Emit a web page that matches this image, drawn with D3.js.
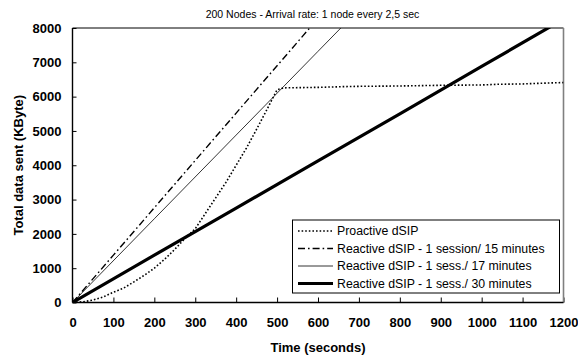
<!DOCTYPE html>
<html>
<head>
<meta charset="utf-8">
<script src="https://cdn.jsdelivr.net/npm/d3@7"></script>
<style>
  body { margin: 0; background: #fff; }
  text { font-family: "Liberation Sans", Arial, sans-serif; }
</style>
</head>
<body>
<div id="viz"></div>
<script>
// values
var proTime = [0, 25, 50, 75, 100, 125, 150, 175, 200, 225, 250, 275, 300, 325, 350, 375, 400, 425, 450, 475, 500, 515, 600, 660, 700, 800, 900, 1000, 1040, 1100, 1170, 1200];
var proData = [0, 20, 70, 160, 300, 420, 600, 790, 1000, 1260, 1550, 1870, 2150, 2600, 3050, 3500, 4000, 4500, 5050, 5620, 6200, 6255, 6270, 6290, 6300, 6310, 6330, 6340, 6360, 6370, 6400, 6410];

var r15Time = [0, 100, 200, 300, 400, 500, 600];
var r15Data = [0, 1380, 2760, 4140, 5520, 6900, 8280];

var r17Time = [0, 200, 400, 600, 700];
var r17Data = [0, 2440, 4880, 7320, 8540];

var r30Time = [0, 200, 400, 600, 800, 1000, 1200];
var r30Data = [0, 1380, 2750, 4130, 5500, 6880, 8260];

var xTicks = [0, 100, 200, 300, 400, 500, 600, 700, 800, 900, 1000, 1100, 1200];
var yTicks = [0, 1000, 2000, 3000, 4000, 5000, 6000, 7000, 8000];

var titleText = "200 Nodes - Arrival rate: 1 node every 2,5 sec";
var xTitle = "Time (seconds)";
var yTitle = "Total data sent (KByte)";

var series = [
    {name: "Proactive dSIP", t: proTime, v: proData, w: 1.6, dash: "1.6,2"},
    {name: "Reactive dSIP - 1 session/ 15 minutes", t: r15Time, v: r15Data, w: 1.4, dash: "7,3,1.6,3"},
    {name: "Reactive dSIP - 1 sess./ 17 minutes", t: r17Time, v: r17Data, w: 0.8, dash: null},
    {name: "Reactive dSIP - 1 sess./ 30 minutes", t: r30Time, v: r30Data, w: 3.2, dash: null}
];

var W = 578, H = 356;
var L = 72.5, R = 563.5, T = 28, B = 302.5;

var svg = d3.select("#viz").append("svg")
    .attr("width", W)
    .attr("height", H);

var x = d3.scaleLinear().domain([0, 1200]).range([L, R]);
var y = d3.scaleLinear().domain([0, 8000]).range([B, T]);

svg.append("clipPath").attr("id", "plotclip")
    .append("rect")
    .attr("x", L).attr("y", T)
    .attr("width", R - L).attr("height", B - T);

// title
svg.append("text")
    .attr("x", 312.5)
    .attr("y", 18)
    .attr("text-anchor", "middle")
    .style("font-size", "10.5px")
    .text(titleText);

// axes
var xAxis = svg.append("g")
    .attr("transform", "translate(0," + B + ")")
    .call(d3.axisBottom(x).tickValues(xTicks).tickSize(-5).tickPadding(15).tickFormat(d3.format("d")));
var yAxis = svg.append("g")
    .attr("transform", "translate(" + L + ",0)")
    .call(d3.axisLeft(y).tickValues(yTicks).tickSize(-4).tickPadding(11).tickFormat(d3.format("d")));

[xAxis, yAxis].forEach(function(g){
    g.select(".domain").remove();
    g.selectAll(".tick line").attr("stroke", "#000").attr("stroke-width", 1);
    g.selectAll(".tick text")
        .attr("fill", "#000")
        .style("font-size", "13px")
        .style("font-weight", "bold")
        .style("font-family", "'Liberation Sans', Arial, sans-serif");
});

// frame
svg.append("line").attr("x1", L).attr("x2", R).attr("y1", T).attr("y2", T)
    .attr("stroke", "#000").attr("stroke-width", 1);
svg.append("line").attr("x1", R).attr("x2", R).attr("y1", T).attr("y2", B)
    .attr("stroke", "#808080").attr("stroke-width", 1.6);
svg.append("line").attr("x1", L).attr("x2", L).attr("y1", T).attr("y2", B)
    .attr("stroke", "#000").attr("stroke-width", 1.4);
svg.append("line").attr("x1", L).attr("x2", R).attr("y1", B).attr("y2", B)
    .attr("stroke", "#000").attr("stroke-width", 1.4);

// axis titles
svg.append("text")
    .attr("x", (L + R) / 2)
    .attr("y", 352)
    .attr("text-anchor", "middle")
    .style("font-size", "13px")
    .style("font-weight", "bold")
    .text(xTitle);
svg.append("text")
    .attr("transform", "translate(23," + ((T + B) / 2) + ") rotate(-90)")
    .attr("text-anchor", "middle")
    .style("font-size", "13px")
    .style("font-weight", "bold")
    .text(yTitle);

// lines
var line = d3.line()
    .x(function(d){ return x(d[0]); })
    .y(function(d){ return y(d[1]); });

var plot = svg.append("g").attr("clip-path", "url(#plotclip)");
series.forEach(function(s){
    var pts = s.t.map(function(t, i){ return [t, s.v[i]]; });
    plot.append("path")
        .datum(pts)
        .attr("d", line)
        .attr("fill", "none")
        .attr("stroke", "#000")
        .attr("stroke-width", s.w)
        .attr("stroke-dasharray", s.dash);
});

// legend
var lg = svg.append("g");
lg.append("rect")
    .attr("x", 292.5).attr("y", 220)
    .attr("width", 267).attr("height", 73)
    .attr("fill", "#fff")
    .attr("stroke", "#000")
    .attr("stroke-width", 1);
series.forEach(function(s, i){
    var yy = 231 + i * 17.5;
    lg.append("line")
        .attr("x1", 298).attr("x2", 333)
        .attr("y1", yy).attr("y2", yy)
        .attr("stroke", "#000")
        .attr("stroke-width", s.w)
        .attr("stroke-dasharray", s.dash);
    lg.append("text")
        .attr("x", 337)
        .attr("y", yy + 4.3)
        .style("font-size", "12.3px")
        .text(s.name);
});
</script>
</body>
</html>
